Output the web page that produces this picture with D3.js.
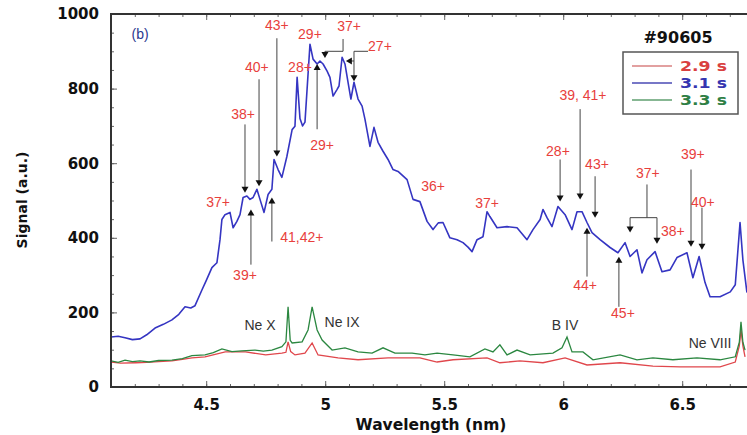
<!DOCTYPE html>
<html><head><meta charset="utf-8">
<script src="https://cdn.jsdelivr.net/npm/d3@7"></script>
<style>body{margin:0;background:#fff;} svg{display:block;}</style>
</head><body>
<svg id="c" width="747" height="435"></svg>
<script>
// ---- data (wavelength nm, signal a.u.) ----
const blue31 = [[4.100,134],[4.130,136],[4.159,132],[4.190,127],[4.222,129],[4.250,140],[4.285,158],[4.320,168],[4.356,180],[4.385,195],[4.411,215],[4.435,212],[4.453,218],[4.482,260],[4.500,285],[4.524,320],[4.545,333],[4.558,395],[4.566,449],[4.579,462],[4.600,468],[4.613,427],[4.629,444],[4.642,462],[4.655,508],[4.671,512],[4.684,503],[4.697,508],[4.713,530],[4.726,503],[4.743,468],[4.760,516],[4.776,530],[4.785,610],[4.802,583],[4.818,562],[4.839,618],[4.861,690],[4.873,699],[4.882,830],[4.894,720],[4.905,700],[4.915,710],[4.936,919],[4.949,879],[4.966,866],[4.978,874],[4.991,866],[5.008,847],[5.020,830],[5.033,780],[5.050,798],[5.058,807],[5.071,884],[5.083,866],[5.096,817],[5.108,772],[5.121,817],[5.138,772],[5.155,753],[5.167,718],[5.188,645],[5.205,696],[5.222,656],[5.243,632],[5.264,610],[5.285,583],[5.306,578],[5.344,556],[5.369,503],[5.398,497],[5.428,444],[5.453,422],[5.475,440],[5.495,441],[5.524,400],[5.554,395],[5.579,387],[5.600,375],[5.617,363],[5.638,395],[5.663,403],[5.680,470],[5.692,457],[5.722,427],[5.764,430],[5.806,427],[5.848,395],[5.873,422],[5.903,449],[5.915,476],[5.932,454],[5.953,430],[5.978,484],[6.008,462],[6.037,422],[6.058,470],[6.079,470],[6.100,441],[6.121,414],[6.155,395],[6.197,374],[6.230,360],[6.260,387],[6.281,350],[6.310,368],[6.331,306],[6.352,341],[6.386,363],[6.415,309],[6.449,314],[6.478,347],[6.520,360],[6.545,293],[6.571,350],[6.596,280],[6.617,242],[6.659,242],[6.702,255],[6.723,274],[6.743,441],[6.755,341],[6.772,253]];
const red29 = [[4.100,67],[4.140,64],[4.205,65],[4.250,66],[4.300,68],[4.356,70],[4.400,74],[4.440,78],[4.495,81],[4.580,94],[4.665,94],[4.750,86],[4.818,91],[4.835,93],[4.844,121],[4.855,95],[4.873,86],[4.915,91],[4.945,118],[4.970,86],[5.054,78],[5.138,73],[5.264,78],[5.398,78],[5.470,67],[5.537,73],[5.680,78],[5.734,65],[5.818,70],[5.915,65],[6.008,78],[6.100,59],[6.239,65],[6.377,56],[6.491,54],[6.659,54],[6.723,67],[6.740,110],[6.747,153],[6.755,110],[6.764,81]];
const green33 = [[4.100,70],[4.130,66],[4.159,72],[4.190,68],[4.222,70],[4.260,67],[4.300,71],[4.356,72],[4.400,76],[4.440,84],[4.495,86],[4.530,92],[4.566,102],[4.608,95],[4.650,97],[4.705,99],[4.740,96],[4.776,99],[4.818,108],[4.835,121],[4.844,215],[4.853,125],[4.861,118],[4.903,121],[4.928,153],[4.945,215],[4.966,153],[4.987,126],[5.029,99],[5.083,105],[5.138,94],[5.197,91],[5.243,105],[5.293,91],[5.365,91],[5.419,86],[5.470,91],[5.537,86],[5.608,81],[5.671,102],[5.705,94],[5.734,113],[5.764,86],[5.806,99],[5.861,86],[5.957,91],[5.995,105],[6.016,134],[6.037,94],[6.083,94],[6.125,73],[6.239,86],[6.310,73],[6.377,78],[6.461,73],[6.562,78],[6.659,73],[6.723,81],[6.740,120],[6.747,175],[6.755,120],[6.764,99]];
const seriesNames = ["2.9 s","3.1 s","3.3 s"];
const xTicks = [4.5,5,5.5,6,6.5];
const yTicks = [0,200,400,600,800,1000];
const chargeLabels = [["37+",4.550,495],["38+",4.655,731],["40+",4.713,857],["43+",4.797,970],["29+",4.936,946],["28+",4.894,857],["29+",4.987,648],["37+",5.100,968],["27+",5.230,914],["41,42+",4.902,403],["39+",4.663,301],["36+",5.453,540],["37+",5.680,492],["28+",5.978,632],["39, 41+",6.083,782],["43+",6.142,597],["44+",6.092,274],["45+",6.251,199],["37+",6.356,575],["38+",6.461,417],["39+",6.545,624],["40+",6.587,497]];
const ionLabels = [["Ne X",4.726,167],["Ne IX",5.071,175],["B IV",6.008,167],["Ne VIII",6.617,118]];
// arrows: polyline points + head direction at last point
const arrows = [
 [[[4.663,704],[4.663,521]],"down"],
 [[[4.722,825],[4.722,538]],"down"],
 [[[4.797,935],[4.797,618]],"down"],
 [[[4.966,691],[4.966,866]],"up"],
 [[[5.075,933],[5.075,900],[4.999,900],[4.999,882]],"down"],
 [[[5.180,900],[5.121,900],[5.121,820]],"down"],
 [[[5.121,874],[5.087,874]],"left"],
 [[[4.776,390],[4.776,508]],"up"],
 [[[4.688,328],[4.688,476]],"up"],
 [[[5.987,610],[5.987,497]],"down"],
 [[[6.071,745],[6.071,503]],"down"],
 [[[6.134,565],[6.134,454]],"down"],
 [[[6.100,296],[6.100,427]],"up"],
 [[[6.234,215],[6.234,349]],"up"],
 [[[6.352,543],[6.352,454]],"none"],
 [[[6.281,454],[6.394,454]],"none"],
 [[[6.281,454],[6.281,414]],"down"],
 [[[6.394,454],[6.394,384]],"down"],
 [[[6.537,583],[6.537,376]],"down"],
 [[[6.583,481],[6.583,368]],"down"]
];

// ---- layout ----
const svg = d3.select("#c");
const L = 111, T = 14, B = 387;
const x = d3.scaleLinear().domain([4.1, 6.8]).range([L, L + 2.7*238]);
const y = d3.scaleLinear().domain([0, 1000]).range([B, T]);
const R = x.range()[1];

svg.append("defs").append("clipPath").attr("id","clip")
  .append("rect").attr("x",L).attr("y",T).attr("width",R-L).attr("height",B-T);

const colors = {red:"#e0474c", blue:"#3535c2", green:"#2b8740"};
const line = d3.line().x(d=>x(d[0])).y(d=>y(d[1]));
const g = svg.append("g").attr("clip-path","url(#clip)");
g.append("path").datum(red29).attr("d",line).attr("fill","none").attr("stroke",colors.red).attr("stroke-width",1.3);
g.append("path").datum(green33).attr("d",line).attr("fill","none").attr("stroke",colors.green).attr("stroke-width",1.3);
g.append("path").datum(blue31).attr("d",line).attr("fill","none").attr("stroke",colors.blue).attr("stroke-width",1.6).attr("stroke-linejoin","round");

// ---- axes ----
const axisCol = "#333";
const fmt = d => String(d);
const xMinor = d3.range(4.2, 6.8, 0.1).map(v=>+v.toFixed(2));
const yMinor = d3.range(0, 1001, 50);
const bx = svg.append("g").attr("transform",`translate(0,${B})`)
  .call(d3.axisBottom(x).tickValues(xMinor).tickSize(-3).tickFormat(""));
const bx2 = svg.append("g").attr("transform",`translate(0,${B})`)
  .call(d3.axisBottom(x).tickValues(xTicks).tickSize(-6).tickPadding(12).tickFormat(fmt));
const tx = svg.append("g").attr("transform",`translate(0,${T})`)
  .call(d3.axisTop(x).tickValues(xMinor).tickSize(-3).tickFormat(""));
const tx2 = svg.append("g").attr("transform",`translate(0,${T})`)
  .call(d3.axisTop(x).tickValues(xTicks).tickSize(-6).tickFormat(""));
const ly = svg.append("g").attr("transform",`translate(${L},0)`)
  .call(d3.axisLeft(y).tickValues(yMinor).tickSize(-3).tickFormat(""));
const ly2 = svg.append("g").attr("transform",`translate(${L},0)`)
  .call(d3.axisLeft(y).tickValues(yTicks).tickSize(-6).tickPadding(12).tickFormat(fmt));
[bx,bx2,tx,tx2,ly,ly2].forEach(a=>{
  a.select(".domain").remove();
  a.selectAll(".tick line").attr("stroke","#666").attr("stroke-width",1);
  a.selectAll(".tick text").attr("fill","#111").style("font-family","DejaVu Sans, sans-serif")
   .style("font-weight","bold").style("font-size","15px");
});
// frame
svg.append("path").attr("d",`M${R},${T}H${L}V${B}H${R}`).attr("fill","none")
  .attr("stroke",axisCol).attr("stroke-width",2);

svg.append("text").attr("x",431).attr("y",430).attr("text-anchor","middle")
  .style("font-family","DejaVu Sans, sans-serif").style("font-weight","bold").style("font-size","15.5px")
  .attr("fill","#111").text("Wavelength (nm)");
svg.append("text").attr("transform","translate(27,200) rotate(-90)").attr("text-anchor","middle")
  .style("font-family","DejaVu Sans, sans-serif").style("font-weight","bold").style("font-size","14px")
  .attr("fill","#111").text("Signal (a.u.)");

// panel label
svg.append("text").attr("x",x(4.222)).attr("y",y(946)).attr("text-anchor","middle").attr("dominant-baseline","central")
  .style("font-family","Liberation Sans, Arial, sans-serif").style("font-size","14px").attr("fill","#2b3990").text("(b)");

// ---- annotations ----
const ann = svg.append("g");
const ax = d=>x(d[0]), ay = d=>y(d[1]);
arrows.forEach(([pts,dir])=>{
  const p = pts.map(d=>[ax(d),ay(d)]);
  const h = 6, w = 3.5;
  const last = p[p.length-1].slice();
  const lp = p.map(q=>q.slice());
  if(dir==="down") lp[lp.length-1][1] -= h-1;
  if(dir==="up") lp[lp.length-1][1] += h-1;
  if(dir==="left") lp[lp.length-1][0] += h-1;
  ann.append("path").attr("d", d3.line()(lp)).attr("fill","none").attr("stroke","#444").attr("stroke-width",1);
  let tri = null;
  const [tx0,ty0] = last;
  if(dir==="down") tri = [[tx0,ty0],[tx0-w,ty0-h],[tx0+w,ty0-h]];
  if(dir==="up") tri = [[tx0,ty0],[tx0-w,ty0+h],[tx0+w,ty0+h]];
  if(dir==="left") tri = [[tx0,ty0],[tx0+h,ty0-w],[tx0+h,ty0+w]];
  if(tri) ann.append("path").attr("d", d3.line()(tri)+"Z").attr("fill","#111");
});
ann.selectAll("text.ch").data(chargeLabels).join("text").attr("class","ch")
  .attr("x",d=>x(d[1])).attr("y",d=>y(d[2])).attr("text-anchor","middle").attr("dominant-baseline","central")
  .style("font-family","Liberation Sans, Arial, sans-serif").style("font-size","14px")
  .attr("fill","#e8403c").text(d=>d[0]);
ann.selectAll("text.ion").data(ionLabels).join("text").attr("class","ion")
  .attr("x",d=>x(d[1])).attr("y",d=>y(d[2])).attr("text-anchor","middle").attr("dominant-baseline","central")
  .style("font-family","Liberation Sans, Arial, sans-serif").style("font-size","14px")
  .attr("fill","#333").text(d=>d[0]);

// ---- legend ----
svg.append("text").attr("x",678).attr("y",37).attr("text-anchor","middle").attr("dominant-baseline","central")
  .style("font-family","DejaVu Sans, sans-serif").style("font-weight","bold").style("font-size","16px")
  .attr("fill","#111").text("#90605");
svg.append("rect").attr("x",623).attr("y",52).attr("width",115).attr("height",62)
  .attr("fill","#fff").attr("stroke","#555").attr("stroke-width",1.5);
const legLine = ["#d98080","#4a4ab5","#5f9f6f"];
const legText = ["#d94040","#3535b0","#2f7f45"];
seriesNames.forEach((n,i)=>{
  const yy = 66 + i*17;
  svg.append("line").attr("x1",632).attr("x2",672).attr("y1",yy).attr("y2",yy)
    .attr("stroke",legLine[i]).attr("stroke-width",1.5);
  svg.append("text").attr("x",680).attr("y",yy).attr("dominant-baseline","central")
    .attr("textLength",47).attr("lengthAdjust","spacingAndGlyphs")
    .style("font-family","DejaVu Sans, sans-serif").style("font-weight","bold").style("font-size","14px")
    .attr("fill",legText[i]).text(n);
});
</script>
</body></html>
